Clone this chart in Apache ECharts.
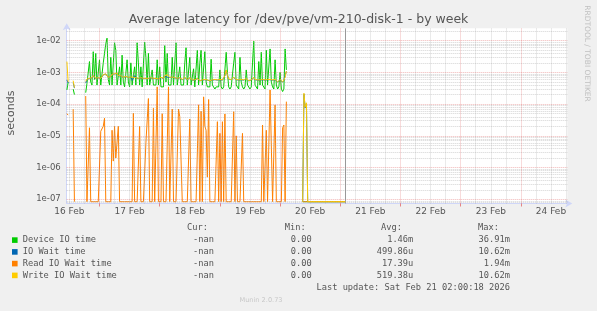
<!DOCTYPE html>
<html><head><meta charset="utf-8">
<script src="https://cdn.jsdelivr.net/npm/echarts@6/dist/echarts.min.js"></script>
<style>html,body{margin:0;padding:0;background:#F0F0F0}#c{width:597px;height:311px}</style>
</head><body><div id="c"></div><script>
// time of first sample: hours after 16 Feb 00:00; samples every 30 minutes
const T0 = 11;
const STEP = 0.5;
const NOW_HOUR = 122; // Last update: Sat Feb 21 02:00

const deviceIO = [
2.8e-4,5e-4,null,null,null,3e-4,2e-4,null,null,null,
null,null,null,null,null,2.3e-4,4.5e-4,5e-4,2.2e-3,5e-4,
4e-4,4.5e-3,6e-4,4e-3,4e-4,4e-4,2.5e-3,4e-4,4.5e-4,2e-3,
4e-3,8e-3,1.2e-2,6e-4,4e-4,3e-3,4e-4,2e-3,8.6e-3,5e-3,
4e-4,3.5e-4,1.5e-3,4e-4,3.5e-3,5e-4,3.5e-4,4e-4,2.5e-3,5e-4,
3.5e-4,2e-3,4e-4,3.5e-4,1.5e-3,4e-4,8.6e-3,2e-3,4e-4,1.5e-3,
3.5e-4,4e-4,9e-3,3e-3,4e-4,4e-3,4e-4,3.5e-4,1.2e-3,4e-4,
3.5e-4,4e-4,2.5e-3,4e-4,1.5e-3,3.5e-4,4e-4,3.5e-4,7e-3,5e-4,
4e-3,4e-4,3.5e-4,4e-4,3e-3,4e-4,3.5e-4,8.6e-3,4e-4,3.5e-4,
1.5e-3,4e-4,3.5e-4,4e-4,2e-3,6e-3,4e-4,3.5e-4,3e-3,4e-4,
3.5e-4,1.3e-3,3.5e-4,4e-4,5e-3,4e-4,2e-3,5e-3,4e-4,3.5e-4,
4.5e-3,5e-4,3.5e-4,4e-4,3.5e-4,2.6e-3,4e-4,3.5e-4,3e-4,3.5e-4,
4e-4,3.5e-4,1.2e-3,3.5e-4,3e-4,3.5e-4,4e-4,4.3e-3,1e-3,3.5e-4,
3e-4,3.5e-4,4e-4,2e-3,4.3e-3,4e-4,3.5e-4,3e-4,3e-3,5e-4,
3.5e-4,3e-4,3.5e-4,1.2e-3,4e-4,3.5e-4,3e-4,3.5e-4,2e-3,9.6e-3,
4e-4,3.5e-4,3e-4,2.2e-3,4e-4,4.3e-3,4e-4,3.5e-4,3e-4,5e-3,
4e-4,3.5e-4,5.5e-3,5e-4,3.5e-4,3e-4,2.5e-3,4e-4,3e-4,3.5e-4,
1e-3,3e-4,2.5e-4,3e-4,5.5e-3,1.2e-3,
null,null,null,null,null,null,null,null,null,null,null,null,
0,0,0,0,0,0,0,0,0,0,0,0,0,0,0,0,0,0,0,0,0,0,0,0,0,0,0,0,0,0,0,0,0,0,0
];

const ioWait = [
5.8e-4,4.6e-4,null,null,null,4.8e-4,3.2e-4,null,null,null,
null,null,null,null,null,4.6e-4,6e-4,6.9e-4,6.4e-4,7.4e-4,
6.7e-4,7.9e-4,6.9e-4,6.4e-4,7.1e-4,6.7e-4,7.4e-4,6.4e-4,6.9e-4,8.4e-4,
7.4e-4,8.9e-4,7.9e-4,6.9e-4,6.7e-4,7.4e-4,8.7e-4,9.9e-4,8.9e-4,8.4e-4,
9.4e-4,7.9e-4,7.1e-4,7.7e-4,8.4e-4,6.9e-4,6.4e-4,7.4e-4,7.9e-4,6.9e-4,
6.7e-4,7.1e-4,5.6e-4,5.8e-4,7.9e-4,6.7e-4,7.4e-4,6.4e-4,6.1e-4,6.7e-4,
6.9e-4,6.4e-4,5.9e-4,6.4e-4,7.1e-4,6.4e-4,6.1e-4,6.7e-4,7.4e-4,6.4e-4,
5.9e-4,6.4e-4,6.9e-4,6.1e-4,6.4e-4,6.9e-4,6.1e-4,6.4e-4,7.7e-4,6.9e-4,
7e-4,7.4e-4,6.9e-4,6.7e-4,7.1e-4,6.4e-4,6.7e-4,7.4e-4,6.4e-4,6.1e-4,
6.7e-4,6.4e-4,5.9e-4,6.4e-4,6.9e-4,6.4e-4,5.9e-4,6.4e-4,6.7e-4,5.9e-4,
5.7e-4,6.1e-4,5.7e-4,5.9e-4,6.4e-4,5.9e-4,5.4e-4,6.1e-4,5.7e-4,5.4e-4,
5.9e-4,6.4e-4,5.7e-4,5.9e-4,5.4e-4,5.9e-4,5.7e-4,5.4e-4,5.9e-4,5.4e-4,
5.7e-4,6.1e-4,5.9e-4,5.4e-4,5.7e-4,6.4e-4,7.9e-4,1.18e-3,7.9e-4,6.1e-4,
5.7e-4,5.9e-4,6.4e-4,6.9e-4,6.4e-4,5.9e-4,5.4e-4,5.7e-4,6.1e-4,5.9e-4,
5.4e-4,5.7e-4,5.9e-4,6.4e-4,5.7e-4,5.4e-4,5.9e-4,5.7e-4,6.4e-4,6.9e-4,
5.9e-4,5.4e-4,5.7e-4,6.1e-4,5.7e-4,6.4e-4,5.9e-4,5.4e-4,5.7e-4,6.4e-4,
5.9e-4,5.4e-4,5.9e-4,6.4e-4,5.7e-4,5.1e-4,5.9e-4,5.4e-4,4.9e-4,5.4e-4,
5.9e-4,5.4e-4,4.9e-4,5.7e-4,5.8e-4,1.08e-3,
null,null,null,null,null,null,null,null,null,null,null,null,
0,2.1e-4,7.5e-5,1.05e-4,
0,0,0,0,0,0,0,0,0,0,0,0,0,0,0,0,0,0,0,0,0,0,0,0,0,0,0,0,0,0,0
];

const readIO = [
5e-5,4.5e-5,null,null,null,7e-5,0,null,null,null,
null,null,null,null,null,1.8e-4,0,0,1.8e-5,0,
0,0,0,0,0,0,0,1.4e-5,1.4e-5,2e-5,
3.6e-5,0,0,0,0,0,1.5e-5,1.6e-6,2e-5,2e-6,
2e-6,2e-5,0,0,0,0,0,0,0,0,
0,0,0,5.2e-5,0,0,0,0,2e-5,0,
0,0,0,6e-6,6e-6,1.5e-4,0,0,0,7.4e-5,
0,0,3.5e-4,0,0,0,5e-5,0,0,0,
0,3.5e-4,0,0,7e-5,0,0,0,0,7e-5,
4e-5,3.6e-5,0,0,0,0,0,0,3.4e-5,0,
0,0,0,0,0,9.5e-5,0,6e-5,0,1.7e-4,
2e-5,1.5e-5,5e-7,1.4e-4,0,0,0,0,0,0,
2.8e-5,0,1.2e-5,0,2.8e-5,0,4.9e-5,0,0,0,
0,0,0,5.8e-5,0,1e-5,0,0,0,0,
1.2e-5,0,0,0,0,0,0,0,0,0,
0,0,0,0,0,0,2.2e-5,0,0,1.5e-5,
0,0,2.8e-4,2.8e-4,0,0,9.5e-5,0,0,0,
0,0,1.8e-5,2.2e-5,0,1.2e-4,
null,null,null,null,null,null,null,null,null,null,null,null,
0,0,0,0,0,0,0,0,0,0,0,0,0,0,0,0,0,0,0,0,0,0,0,0,0,0,0,0,0,0,0,0,0,0,0
];

const writeIO = [
2.2e-3,5e-4,null,null,null,5.5e-4,3.3e-4,null,null,null,
null,null,null,null,null,5.2e-4,6.2e-4,7e-4,6.5e-4,7.5e-4,
6.8e-4,8e-4,7e-4,6.5e-4,7.2e-4,6.8e-4,7.5e-4,6.5e-4,7e-4,8.5e-4,
7.5e-4,9e-4,8e-4,7e-4,6.8e-4,7.5e-4,8.8e-4,1e-3,9e-4,8.5e-4,
9.5e-4,8e-4,7.2e-4,7.8e-4,8.5e-4,7e-4,6.5e-4,7.5e-4,8e-4,7e-4,
6.8e-4,7.2e-4,6.5e-4,7e-4,8e-4,6.8e-4,7.5e-4,6.5e-4,6.2e-4,6.8e-4,
7e-4,6.5e-4,6e-4,6.5e-4,7.2e-4,6.5e-4,6.2e-4,6.8e-4,7.5e-4,6.5e-4,
6e-4,6.5e-4,7e-4,6.2e-4,6.5e-4,7e-4,6.2e-4,6.5e-4,7.8e-4,7e-4,
8.5e-4,7.5e-4,7e-4,6.8e-4,7.2e-4,6.5e-4,6.8e-4,7.5e-4,6.5e-4,6.2e-4,
6.8e-4,6.5e-4,6e-4,6.5e-4,7e-4,6.5e-4,6e-4,6.5e-4,6.8e-4,6e-4,
5.8e-4,6.2e-4,5.8e-4,6e-4,6.5e-4,6e-4,5.5e-4,6.2e-4,5.8e-4,5.5e-4,
6e-4,6.5e-4,5.8e-4,6e-4,5.5e-4,6e-4,5.8e-4,5.5e-4,6e-4,5.5e-4,
5.8e-4,6.2e-4,6e-4,5.5e-4,5.8e-4,6.5e-4,8e-4,1.2e-3,8e-4,6.2e-4,
5.8e-4,6e-4,6.5e-4,7e-4,6.5e-4,6e-4,5.5e-4,5.8e-4,6.2e-4,6e-4,
5.5e-4,5.8e-4,6e-4,6.5e-4,5.8e-4,5.5e-4,6e-4,5.8e-4,6.5e-4,7e-4,
6e-4,5.5e-4,5.8e-4,6.2e-4,5.8e-4,6.5e-4,6e-4,5.5e-4,5.8e-4,6.5e-4,
6e-4,5.5e-4,6e-4,6.5e-4,5.8e-4,5.2e-4,6e-4,5.5e-4,5e-4,5.5e-4,
6e-4,5.5e-4,5e-4,5.8e-4,7e-4,1.1e-3,
null,null,null,null,null,null,null,null,null,null,null,null,
0,2.2e-4,8e-5,1.1e-4,
0,0,0,0,0,0,0,0,0,0,0,0,0,0,0,0,0,0,0,0,0,0,0,0,0,0,0,0,0,0,0
];

const X_LABELS = ['16 Feb','17 Feb','18 Feb','19 Feb','20 Feb','21 Feb','22 Feb','23 Feb','24 Feb'];
const X_LABEL_HOURS = [12,36,60,84,108,132,156,180,204];
const X_MAJOR_HOURS = [24,48,72,96,120,144,168,192];
const Y_LABELS = ['1e-07','1e-06','1e-05','1e-04','1e-03','1e-02'];
const Y_LABEL_VALUES = [1e-7,1e-6,1e-5,1e-4,1e-3,1e-2];

const LEGEND_NAMES = ['Device IO time','IO Wait time','Read IO Wait time','Write IO Wait time'];
const LEGEND_CUR = ['-nan','-nan','-nan','-nan'];
const LEGEND_MIN = ['0.00','0.00','0.00','0.00'];
const LEGEND_AVG = ['1.46m','499.86u','17.39u','519.38u'];
const LEGEND_MAX = ['36.91m','10.62m','1.94m','10.62m'];
const COLORS = ['#00CC00','#0066B3','#FF8000','#FFCC00'];

const Y_MIN = 7.37e-8, Y_MAX = 2.46e-2;
const Y_ZERO = 8.4e-8; // where a zero is drawn on the log scale (bottom row, like rrdtool)
const X_MIN = 10.92, X_MAX = 210.5;

function build(arr){
  return arr.map((v,i)=>[T0 + STEP*i, v === null ? null : (v === 0 ? Y_ZERO : v)]);
}

const MAJOR = {color:'rgba(220,80,80,0.42)', type:[1,1], width:1};
const MINOR = {color:'rgba(160,160,160,0.45)', type:[1,1], width:1};
const gridLines = [];
for (let d=-8; d<=-2; d++) for (let m=2; m<=9; m++){
  const v = m*Math.pow(10,d); if (v < Y_MIN || v > Y_MAX) continue;
  gridLines.push({yAxis:Math.log10(v), lineStyle:Object.assign({},MINOR)});
}
for (let h=12; h<X_MAX; h+=6) if (h%24) gridLines.push({xAxis:h, lineStyle:Object.assign({},MINOR)});
for (const v of Y_LABEL_VALUES) gridLines.push({yAxis:Math.log10(v), lineStyle:Object.assign({},MAJOR)});
for (const h of X_MAJOR_HOURS) gridLines.push({xAxis:h, lineStyle:Object.assign({},MAJOR)});
gridLines.push({xAxis:NOW_HOUR, lineStyle:{color:'#999', type:'solid', width:1}});

const mono = '8.7px "DejaVu Sans Mono"';
const textColor = '#555';
const graphic = [
  {type:'text', x:298.5, y:19.5, style:{text:'Average latency for /dev/pve/vm-210-disk-1 - by week', font:'12.5px "DejaVu Sans"', fill:'#555', align:'center', verticalAlign:'middle'}},
  {type:'text', x:11.5, y:113, rotation:Math.PI/2, style:{text:'seconds', font:'11px "DejaVu Sans"', fill:'#555', align:'center', verticalAlign:'middle'}},
  {type:'text', x:586.5, y:53.5, rotation:-Math.PI/2, style:{text:'RRDTOOL / TOBI OETIKER', font:'7.5px "DejaVu Sans"', fill:'#C0C0C0', align:'center', verticalAlign:'middle'}},
  {type:'text', x:208, y:227.7, style:{text:'Cur:', font:mono, fill:textColor, align:'right', verticalAlign:'middle'}},
  {type:'text', x:305.7, y:227.7, style:{text:'Min:', font:mono, fill:textColor, align:'right', verticalAlign:'middle'}},
  {type:'text', x:402, y:227.7, style:{text:'Avg:', font:mono, fill:textColor, align:'right', verticalAlign:'middle'}},
  {type:'text', x:499, y:227.7, style:{text:'Max:', font:mono, fill:textColor, align:'right', verticalAlign:'middle'}},
  {type:'text', x:510, y:287.7, style:{text:'Last update: Sat Feb 21 02:00:18 2026', font:mono, fill:textColor, align:'right', verticalAlign:'middle'}},
  {type:'text', x:261, y:300, style:{text:'Munin 2.0.73', font:'6.6px "DejaVu Sans"', fill:'#C8C8C8', align:'center', verticalAlign:'middle'}}
];
const rowY = [240.1, 251.9, 263.6, 275.4];
LEGEND_NAMES.forEach((n,k)=>{
  const y = rowY[k];
  graphic.push({type:'rect', shape:{x:12, y:y-2.8, width:5.6, height:5.6}, style:{fill:COLORS[k]}});
  graphic.push({type:'text', x:22.7, y:y, style:{text:n, font:mono, fill:textColor, align:'left', verticalAlign:'middle'}});
  graphic.push({type:'text', x:214, y:y, style:{text:LEGEND_CUR[k], font:mono, fill:textColor, align:'right', verticalAlign:'middle'}});
  graphic.push({type:'text', x:311.7, y:y, style:{text:LEGEND_MIN[k], font:mono, fill:textColor, align:'right', verticalAlign:'middle'}});
  graphic.push({type:'text', x:413.3, y:y, style:{text:LEGEND_AVG[k], font:mono, fill:textColor, align:'right', verticalAlign:'middle'}});
  graphic.push({type:'text', x:510, y:y, style:{text:LEGEND_MAX[k], font:mono, fill:textColor, align:'right', verticalAlign:'middle'}});
});

const dataSets = [deviceIO, ioWait, readIO, writeIO];
const series = [{
  type:'line', xAxisIndex:0, yAxisIndex:1, data:[[X_MIN, null]], silent:true, z:1, showSymbol:false,
  markLine:{silent:true, symbol:['none','none'], label:{show:false}, animation:false, emphasis:{disabled:true}, data:gridLines}
}];
dataSets.forEach((arr,k)=>{
  series.push({name:LEGEND_NAMES[k], type:'line', xAxisIndex:0, yAxisIndex:0, data:build(arr), showSymbol:false, symbol:'none', z:2+k,
    lineStyle:{width:1, color:COLORS[k]}, itemStyle:{color:COLORS[k]}, emphasis:{disabled:true}, connectNulls:false, clip:true});
});

const chart = echarts.init(document.getElementById('c'), null, {renderer:'canvas'});
chart.setOption({
  animation:false,
  backgroundColor:'#F0F0F0',
  textStyle:{fontFamily:'DejaVu Sans'},
  grid:{left:66.7, top:28.3, width:500.6, height:175.2, show:true, backgroundColor:'#FFFFFF', borderWidth:0, containLabel:false},
  xAxis:{type:'value', min:X_MIN, max:X_MAX,
    splitLine:{show:false},
    axisLine:{show:true, lineStyle:{color:'#CFD6F8', width:1}, symbol:['none','arrow'], symbolSize:[6,7], symbolOffset:[0,5]},
    axisTick:{show:true, customValues:X_MAJOR_HOURS, length:3, lineStyle:{color:'rgba(222,60,60,0.6)'}},
    axisLabel:{customValues:X_LABEL_HOURS, formatter:(v)=>X_LABELS[X_LABEL_HOURS.indexOf(Math.round(v))] || '', color:'#555', fontSize:9, fontFamily:'DejaVu Sans', margin:4}
  },
  yAxis:[{type:'log', logBase:10, min:Y_MIN, max:Y_MAX,
    splitLine:{show:false}, minorSplitLine:{show:false},
    axisLine:{show:true, lineStyle:{color:'#CFD6F8', width:1}, symbol:['none','arrow'], symbolSize:[6,7], symbolOffset:[0,5]},
    axisTick:{show:false},
    axisLabel:{customValues:Y_LABEL_VALUES, formatter:(v)=>Y_LABELS[Math.round(Math.log10(v))+7] || '', color:'#555', fontSize:8.5, fontFamily:'DejaVu Sans', margin:6, showMinLabel:true, showMaxLabel:true}
  },{
    type:'value', show:false, min:Math.log10(Y_MIN), max:Math.log10(Y_MAX), splitLine:{show:false}
  }],
  graphic: graphic,
  series: series
});
</script></body></html>
